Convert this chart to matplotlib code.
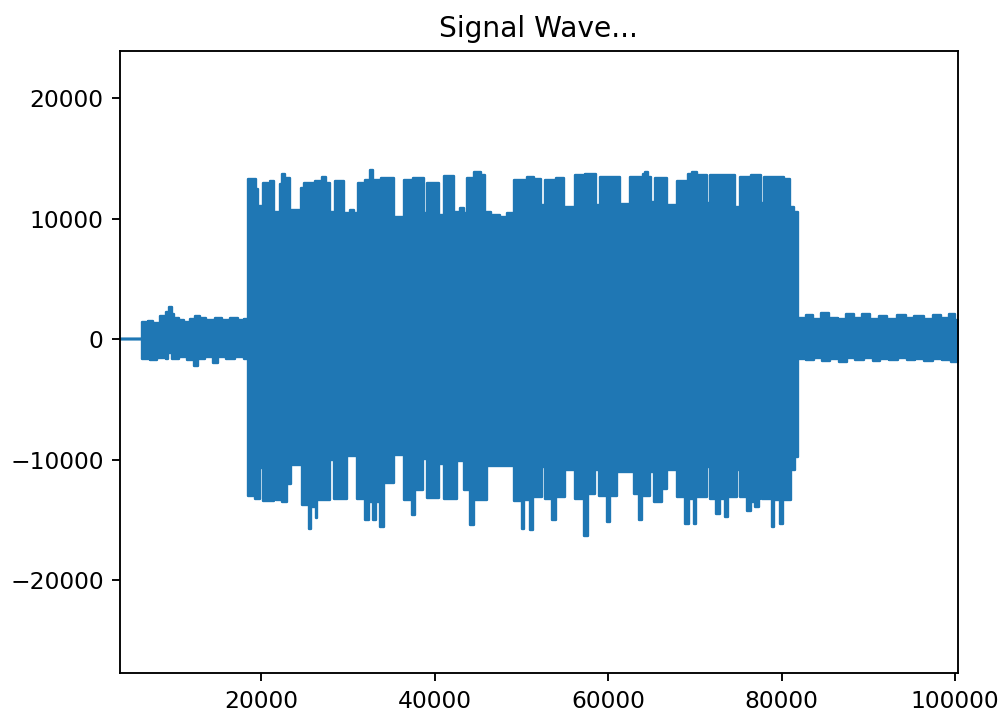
import numpy as np
import matplotlib
matplotlib.use("Agg")
import matplotlib.pyplot as plt

# amplitude envelope of the recording, as (sample index, value) steps
upper_x = [0, 6280, 7000, 7600, 8400, 9000, 9350, 9700, 9920, 10500, 11080, 11800,
           12430, 13000, 13700, 14700, 15500, 16400, 17300, 18000,
           18540, 19460, 19700, 20230, 20800, 21000, 21460, 22150, 22400, 22800,
           23380, 24600, 25000, 26200, 27000, 27500, 27990, 28560, 29530, 30300,
           30700, 31140, 32000, 32550, 32850, 33800, 35290, 36450, 37500, 38750,
           39130, 40560, 41060, 42200, 42900, 43370, 43750, 44500, 45300, 45860,
           46500, 47500, 48300, 49130, 50600, 51500, 52280, 52780, 54000, 54970,
           56240, 57300, 58660, 59120, 61350, 62580, 64000, 64300, 64600, 64960,
           65460, 66810, 67960, 69200, 69700, 70200, 71420, 71800, 74680, 75260,
           76500, 77570, 77950, 80300, 81000, 81400,
           81870, 82800, 83600, 84600, 85500, 86500, 87400, 88300, 89300, 90200,
           91200, 92200, 93300, 94300, 95300, 96400, 97400, 98400, 99300, 100000,
           101000]
upper_y = [0, 1450, 1550, 1400, 1900, 2300, 2700, 2100, 1800, 1650, 1450, 1700,
           1950, 1750, 1600, 1750, 1650, 1800, 1600, 1700,
           13300, 12500, 11100, 13000, 12850, 13100, 10600, 12900, 13700, 13400,
           10700, 12600, 12950, 13100, 13450, 13000, 10600, 13150, 10450, 10750,
           10450, 12950, 13250, 14050, 13200, 13400, 10150, 13200, 13350, 10450,
           12950, 10300, 13550, 10600, 10900, 10500, 13400, 13850, 13600, 10600,
           10300, 10150, 10450, 13250, 13500, 13300, 11150, 13250, 13400, 11000,
           13600, 13700, 11150, 13450, 11250, 13500, 13700, 13900, 13450, 11400,
           13350, 11150, 13100, 13700, 13900, 13600, 11300, 13650, 11000, 13500,
           13650, 11300, 13450, 13300, 11000, 10600,
           1750, 2000, 1700, 2200, 1800, 1700, 2100, 1800, 2100, 1700,
           1900, 1700, 2000, 1750, 1900, 1700, 2000, 1800, 2100, 1650,
           1650]

lower_x = [0, 6280, 7200, 8000, 9000, 9300, 9700, 10500, 11500, 12300, 12700,
           13600, 14500, 15000, 16000, 17000, 18000,
           18540, 19300, 19920, 20230, 21460, 21760, 22420, 23000, 23460, 24720,
           25500, 25800, 26300, 26500, 27990, 28370, 29900, 31060, 32020, 32400,
           32900, 33300, 33750, 34200, 35290, 36440, 37400, 37800, 38670, 39130,
           40560, 41060, 42600, 43360, 44130, 44500, 46050, 49130, 50090, 50360,
           50970, 51360, 52400, 52780, 53550, 54050, 55090, 56240, 57200, 57660,
           58540, 58930, 59890, 60270, 61040, 62960, 63540, 63920, 64880, 65270,
           66200, 66810, 67960, 68920, 69300, 69880, 70190, 71420, 71730, 72490,
           72880, 73530, 73800, 74880, 75180, 76030, 76490, 76990, 77380, 77490,
           77760, 78910, 79180, 79870, 80180, 81030, 81600,
           81870, 82800, 83700, 84700, 85600, 86600, 87500, 88500, 89500, 90500,
           91400, 92400, 93400, 94400, 95400, 96400, 97500, 98500, 99500, 100000,
           101000]
lower_y = [0, -1600, -1700, -1550, -1650, -1100, -1650, -1500, -1700, -2200, -1650,
           -1500, -1950, -1500, -1650, -1500, -1600,
           -12950, -13250, -10700, -13400, -10300, -13300, -13500, -12000, -10450, -13750,
           -15700, -13900, -14800, -13300, -10000, -13200, -9700, -13200, -15000, -13500,
           -15000, -13500, -15550, -11900, -9600, -13300, -14600, -12500, -9900, -13150,
           -10300, -13200, -10100, -12500, -15400, -13300, -10500, -13400, -15700, -13300,
           -15800, -13100, -10550, -13200, -15000, -13100, -10850, -13200, -16350, -12800,
           -10850, -12950, -15150, -12950, -11000, -12800, -15000, -12950, -11000, -13450,
           -12400, -10850, -13050, -15300, -13200, -15300, -13050, -10600, -13200, -14450,
           -13200, -14700, -13050, -10850, -13050, -14200, -13450, -13900, -13200, -10600,
           -13200, -15550, -13300, -15300, -13300, -10850, -9750,
           -1600, -1750, -1550, -1800, -1600, -1850, -1550, -1700, -1550, -1800,
           -1600, -1750, -1550, -1700, -1600, -1800, -1600, -1750, -1850, -1900,
           -1900]

dpi = 168.7
fig = plt.figure(figsize=(1002 / dpi, 715 / dpi), dpi=dpi)
ax = fig.add_axes([0.1198, 0.0583, 0.8360, 0.8708])

# the waveform is drawn as its filled envelope, upper and lower halves
wave = "#1f77b4"
for xs, lo, hi in [(upper_x, 0, upper_y), (lower_x, lower_y, 0)]:
    ax.fill_between(xs, lo, hi, step="post", facecolor=wave, edgecolor=wave,
                    lw=1.0, joinstyle="round")

ax.set_xlim(3750, 100300)
ax.set_ylim(-27700, 23950)
ax.set_xticks([20000, 40000, 60000, 80000, 100000])
ax.set_yticks([-20000, -10000, 0, 10000, 20000])
ax.set_title("Signal Wave...")

fig.savefig("out.png", dpi=dpi)
